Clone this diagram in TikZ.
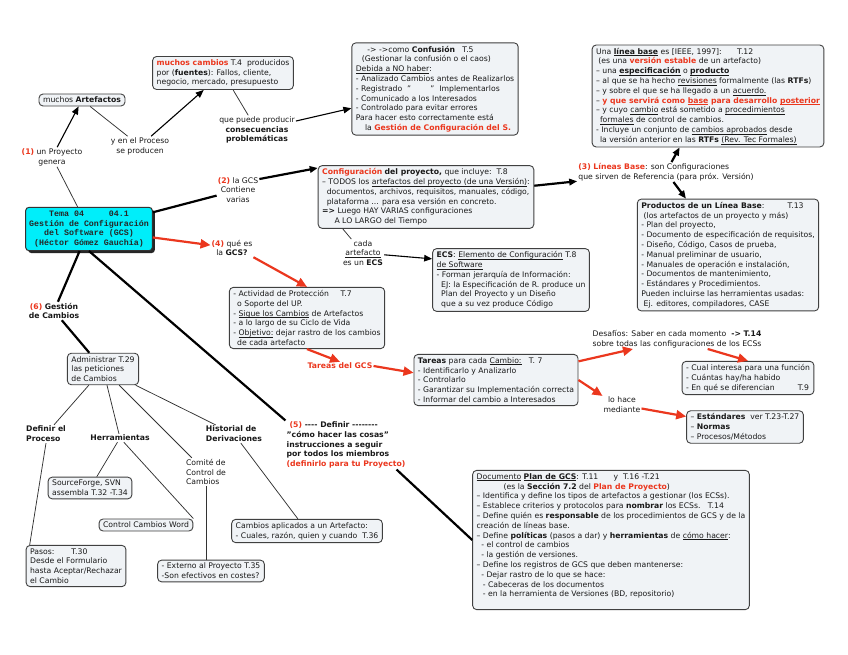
\documentclass[tikz,border=0pt]{standalone}
\usepackage{fontspec}
\setmainfont{DejaVu Sans}
\newfontfamily\monofam{Liberation Mono}
\usetikzlibrary{arrows.meta,shadows}
\definecolor{myred}{RGB}{235,55,30}
\definecolor{boxfill}{RGB}{240,243,246}
\definecolor{cyanfill}{RGB}{0,238,250}
\newcommand{\rd}[1]{\textcolor{myred}{#1}}
\newcommand{\rb}[1]{\textcolor{myred}{\textbf{#1}}}
\newcommand{\myul}[1]{\leavevmode\setbox0\hbox{#1}\rlap{\rule[-1.6pt]{\wd0}{0.45pt}}\box0\relax}
\newcommand{\hy}{{-}}
\newcommand{\fs}{\fontsize{7.7}{9.8}\selectfont}
\newcommand{\mainf}{\fontsize{8.3}{9.6}\selectfont\monofam\bfseries}
\tikzset{
 box/.style={draw=black!75, fill=boxfill, rounded corners=4pt, line width=0.9pt, inner xsep=4pt, inner ysep=3pt, align=left, text=black!90, font=\fs},
 lab/.style={align=center, inner sep=1pt, font=\fs, text=black!90},
 thinln/.style={draw=black!80, line width=0.75pt},
 medln/.style={draw=black, line width=1.1pt},
 thickln/.style={draw=black, line width=2.2pt},
 arr/.style={-{Triangle[length=8pt,width=6.5pt]}},
 redarr/.style={draw=myred, line width=2.2pt, -{Triangle[length=10pt,width=9pt]}},
}
\begin{document}
\begin{tikzpicture}[x=1pt,y=-1pt]
\fill[white] (0,0) rectangle (848,655);
\useasboundingbox (0,0) rectangle (848,655);

% main node
\node[draw=black!80, fill=cyanfill, rounded corners=3pt, line width=1pt, align=center, font=\mainf, text=black!85,
  drop shadow={shadow xshift=2.5pt, shadow yshift=-2.5pt, fill=black!85, opacity=1}, inner sep=3.5pt] (main) at (89,229)
  {Tema 04\hspace{3em}04.1\\ Gestión de Configuración\\ del Software (GCS)\\ (Héctor Gómez Gauchía)};

% top-left
\node[box] (art) at (82,100) {muchos \textbf{Artefactos}};
\node[box] (cambios) at (223,73) {\rb{muchos cambios} T.4\ \ producidos\\ por (\textbf{fuentes}): Fallos, cliente,\\ negocio, mercado, presupuesto};
\node[lab] (l1) at (52,157) {\rb{(1)} un Proyecto\\ genera};
\node[lab] (lproc) at (140,146) {y en el Proceso\\ se producen};
\node[lab] (lpuede) at (257,130) {que puede producir\\ \textbf{consecuencias}\\ \textbf{problemáticas}};

\node[box] (conf) at (435,89) {\hspace*{1.5em}-> ->como \textbf{Confusión}\ \ \ T.5\\
 \hspace*{0.8em}(Gestionar la confusión o el caos)\\
 \myul{Debida a NO haber}:\\
 - Analizado Cambios antes de Realizarlos\\
 - Registrado\ \ "\hspace{2.5em}"\ \ Implementarlos\\
 - Comunicado a los Interesados\\
 - Controlado para evitar errores\\
 Para hacer esto correctamente está\\
 \hspace*{1.2em}la \rb{Gestión de Configuración del S.}};

\node[box] (lbase) at (708,96) {Una \myul{\textbf{línea base}} es [IEEE, 1997]:\hspace{2em}T.12\\
 \hspace*{0.3em}(es una \rb{versión estable} de un artefacto)\\
 – una \myul{\textbf{especificación}} o \myul{\textbf{producto}}\\
 – al que se ha hecho \myul{revisiones} formalmente (las \textbf{RTFs})\\
 – y sobre el que se ha llegado a un \myul{acuerdo.}\\
 – \rb{y que servirá como \myul{base} para desarrollo \myul{posterior}}\\
 – y cuyo \myul{cambio} está sometido a \myul{procedimientos}\\
 \hspace*{0.5em}\myul{formales} de control de cambios.\\
 - Incluye un conjunto de \myul{cambios aprobados} desde\\
 \hspace*{0.5em}la versión anterior en las \textbf{RTFs} \myul{(Rev. Tec Formales)}};

% middle
\node[lab] (l2) at (238,190) {\rb{(2)} la GCS\\ Contiene\\ varias};
\node[box] (config) at (426,197) {\rb{Configuración} \textbf{del proyecto,} que incluye:\ \ T.8\\
 – TODOS los \myul{artefactos del proyecto (de una Versión)}:\\
 \hspace*{0.6em}documentos, archivos, requisitos, manuales, código,\\
 \hspace*{0.6em}plataforma ... para esa versión en concreto.\\
 \textbf{=>} Luego HAY VARIAS configuraciones\\
 \hspace*{1.6em}A LO LARGO del Tiempo};
\node[lab, align=left] (l3) at (666,172) {\rb{(3) Líneas Base}: son Configuraciones\\ que sirven de Referencia (para próx. Versión)};
\node[box] (prod) at (728,255) {\textbf{Productos de un Línea Base}:\hspace{3em}T.13\\
 \hspace*{0.3em}(los artefactos de un proyecto y más)\\
 - Plan del proyecto,\\
 - Documento de especificación de requisitos,\\
 - Diseño, Código, Casos de prueba,\\
 - Manual preliminar de usuario,\\
 - Manuales de operación e instalación,\\
 - Documentos de mantenimiento,\\
 - Estándares y Procedimientos.\\
 Pueden incluirse las herramientas usadas:\\
 \hspace*{0.3em}Ej. editores, compiladores, CASE};
\node[lab] (lcada) at (363,253) {cada\\ \myul{artefacto}\\ es un \textbf{ECS}};
\node[box] (ecs) at (511,280) {\textbf{ECS}: \myul{Elemento de Configuración} T.8\\
 \myul{de Software}\\
 - Forman jerarquía de Información:\\
 \hspace*{0.6em}EJ: la Especificación de R. produce un\\
 \hspace*{0.6em}Plan del Proyecto y un Diseño\\
 \hspace*{0.6em}que a su vez produce Código};
\node[lab] (l4) at (232,248) {\rb{(4)} qué es\\ la \textbf{GCS?}};
\node[box] (activ) at (307,318) {- Actividad de Protección\hspace{1.5em}T.7\\
 \hspace*{0.5em}o Soporte del UP.\\
 - \myul{Sigue los Cambios} de Artefactos\\
 - a lo largo de su Ciclo de Vida\\
 - \myul{Objetivo:} dejar rastro de los cambios\\
 \hspace*{0.5em}de cada artefacto};
\node[lab] (ltareas) at (340,366) {\rb{Tareas del GCS}};
\node[box] (tareas) at (496,380) {\textbf{Tareas} para cada \myul{Cambio:}\ \ \ T. 7\\
 - Identificarlo y Analizarlo\\
 - Controlarlo\\
 - Garantizar su Implementación correcta\\
 - Informar del cambio a Interesados};
\node[lab] (ldes) at (677,339) {Desafíos: Saber en cada momento\ \ \textbf{-> T.14}\\ sobre todas las configuraciones de los ECSs};
\node[box] (cual) at (748,378) {- Cual interesa para una función\\ - Cuántas hay/ha habido\\ - En qué se diferencian\hspace{3em}T.9};
\node[lab] (lhace) at (622,405) {lo hace\\ mediante};
\node[box] (estand) at (745,427) {– \textbf{Estándares}\ \ ver T.23-T.27\\ – \textbf{Normas}\\ – Procesos/Métodos};

% bottom
\node[lab, font=\fs\bfseries, align=left] (l5) at (346,445) {\hspace*{0.4em}\rd{(5)} \hy\hy\hy\hy\ Definir \hy\hy\hy\hy\hy\hy\hy\hy\\ "cómo hacer las cosas"\\ instrucciones a seguir\\ por todos los miembros\\ \rd{(definirlo para tu Proyecto)}};
\node[box] (plan) at (611,540) {\myul{Documento} \myul{\textbf{Plan de GCS}}: T.11\hspace{2em}y\ \ T.16 -T.21\\
 \hspace*{3.5em}(es la \textbf{Sección 7.2} del \rb{Plan de Proyecto})\\
 – Identifica y define los tipos de artefactos a gestionar (los ECSs).\\
 – Establece criterios y protocolos para \textbf{nombrar} los ECSs.\ \ \ T.14\\
 – Define quién es \textbf{responsable} de los procedimientos de GCS y de la\\
 creación de líneas base.\\
 – Define \textbf{políticas} (pasos a dar) y \textbf{herramientas} de \myul{cómo hacer}:\\
 \hspace*{0.6em}- el control de cambios\\
 \hspace*{0.6em}- la gestión de versiones.\\
 – Define los registros de GCS que deben mantenerse:\\
 \hspace*{0.6em}- Dejar rastro de lo que se hace:\\
 \hspace*{0.8em}- Cabeceras de los documentos\\
 \hspace*{0.8em}- en la herramienta de Versiones (BD, repositorio)\\ \mbox{}};

\node[lab] (l6) at (54,311) {\rb{(6)} \textbf{Gestión}\\ \textbf{de Cambios}};
\node[box] (admin) at (103,369) {Administrar T.29\\ las peticiones\\ de Cambios};
\node[lab, font=\fs\bfseries, align=left] (ldef) at (46,434) {Definir el\\ Proceso};
\node[lab, font=\fs\bfseries] (lherr) at (120,438) {Herramientas};
\node[lab, font=\fs\bfseries, align=left] (lhist) at (234,434) {Historial de\\ Derivaciones};
\node[lab, align=left] (lcomite) at (206,472) {Comité de\\ Control de\\ Cambios};
\node[box] (source) at (90,488) {SourceForge, SVN\\ assembla T.32 -T.34};
\node[box] (word) at (146,525) {Control Cambios Word};
\node[box] (pasos) at (76,566) {Pasos:\hspace{2.2em}T.30\\ Desde el Formulario\\ hasta Aceptar/Rechazar\\ el Cambio};
\node[box] (externo) at (211,571) {- Externo al Proyecto T.35\\ -Son efectivos en costes?};
\node[box] (cambapl) at (307,531) {Cambios aplicados a un Artefacto:\\ - Cuales, razón, quien y cuando\ \ T.36};

% connectors
\draw[thinln] (main) -- (l1);
\draw[medln, arr] (l1) -- (art);
\draw[thinln] (art) -- (lproc);
\draw[medln, arr] (lproc) -- (cambios);
\draw[thinln] (cambios) -- (lpuede);
\draw[medln, arr] (lpuede) -- (conf);
\draw[thickln] (main) -- (l2);
\draw[thickln, arr] ([yshift=-3pt]l2.north east) -- (config.165);
\draw[thickln, arr] (config) -- (l3);
\draw[thickln, arr] (l3) -- (lbase);
\draw[thickln, arr] (l3) -- (prod);
\draw[thinln] ([xshift=25pt]config.south west) -- (lcada);
\draw[medln, arr] (lcada) -- (ecs.165);
\draw[redarr] (main) -- (l4);
\draw[redarr] (l4.south east) -- (activ.north);
\draw[redarr] (activ.south) -- (ltareas.north);
\draw[redarr] (ltareas.east) -- (tareas.175);
\draw[redarr] (tareas) -- (ldes);
\draw[redarr] ([xshift=-55pt]ldes.south east) -- (cual.north);
\draw[redarr] (tareas.east) -- (lhace.north west);
\draw[redarr] (lhace) -- (estand);
\draw[thickln] (main.south) -- (l5.north west);
\draw[thickln] ([xshift=-10pt]l5.south east) -- (plan.west);
\draw[thickln] (main) -- (l6);
\draw[thickln] (l6) -- (admin);
\draw[thinln] (admin) -- (ldef);
\draw[thinln] (admin) -- (lherr);
\draw[thinln] (admin) -- (lcomite);
\draw[thinln] (admin) -- (lhist);
\draw[thinln] (ldef.south) -- ([xshift=4pt]pasos.north west);
\draw[thinln] (lherr) -- (source);
\draw[thinln] (lherr) -- (word.north east);
\draw[thinln] (lcomite.south) -- (lcomite.south |- externo.north);
\draw[thinln] (lhist) -- (cambapl);
\end{tikzpicture}
\end{document}
